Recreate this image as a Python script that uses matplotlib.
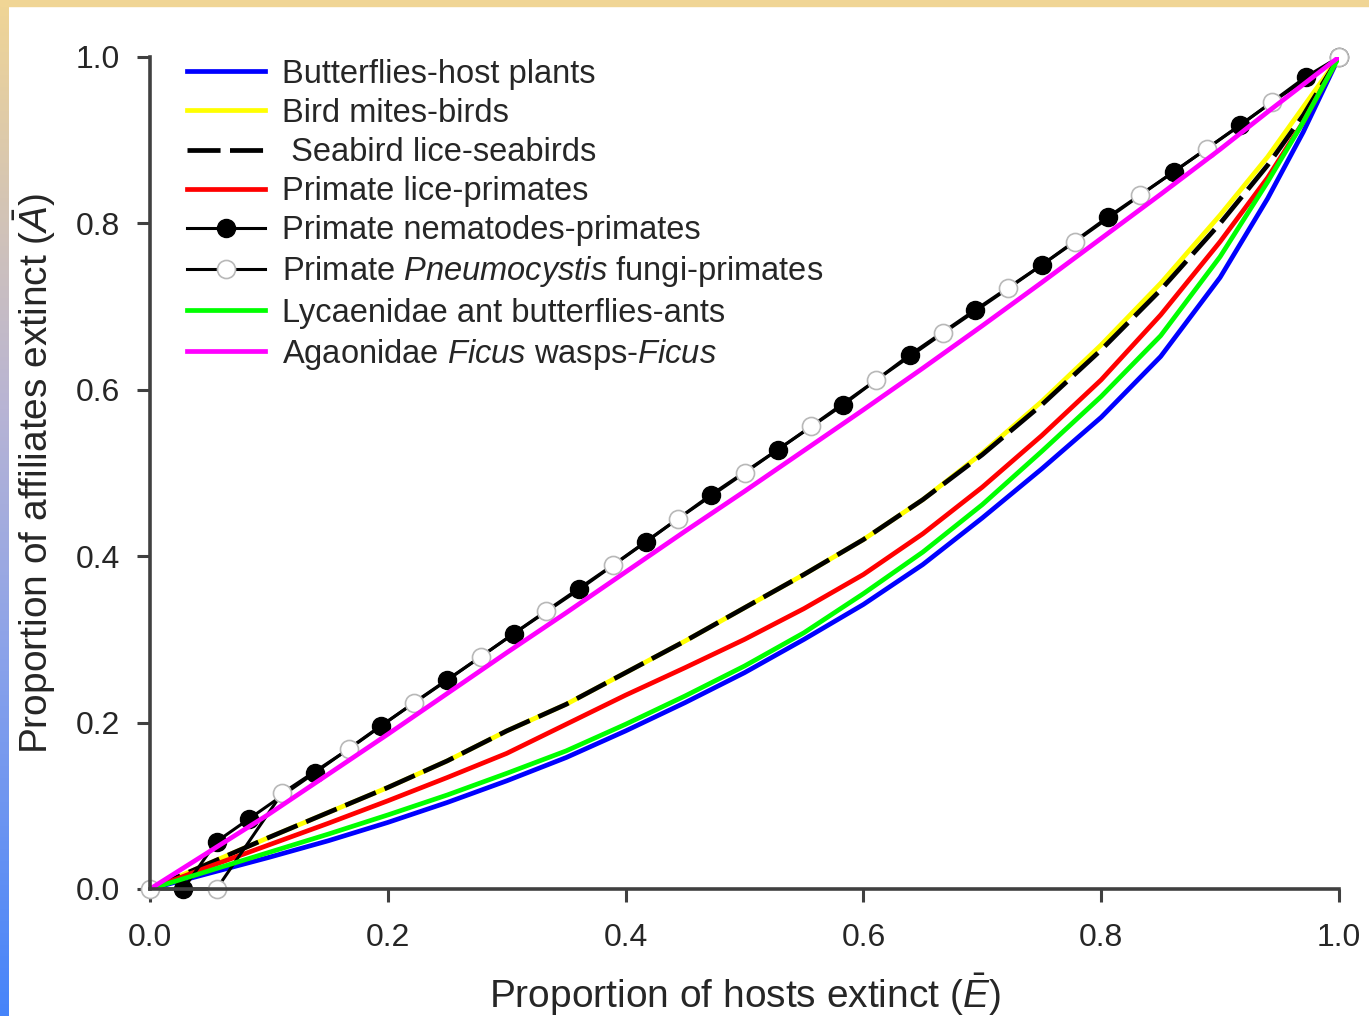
import numpy as np
import matplotlib
matplotlib.use('Agg')
import matplotlib.pyplot as plt
from matplotlib.colors import LinearSegmentedColormap
from matplotlib.patches import Rectangle

plt.rcParams['font.family'] = ['Liberation Sans', 'DejaVu Sans']
plt.rcParams['mathtext.fontset'] = 'custom'
plt.rcParams['mathtext.rm'] = 'Liberation Sans'
plt.rcParams['mathtext.it'] = 'Liberation Sans:italic'
plt.rcParams['mathtext.bf'] = 'Liberation Sans:bold'

# Curves (proportion of hosts extinct -> affiliates extinct)
curve_x = [0, 0.05, 0.1, 0.15, 0.2, 0.25, 0.3, 0.35, 0.4, 0.45, 0.5, 0.55, 0.6, 0.65, 0.7,
           0.75, 0.8, 0.85, 0.9, 0.94, 0.97, 1.0]

butterfly_y = [0, 0.019, 0.038, 0.058, 0.08, 0.104, 0.13, 0.158, 0.19, 0.224, 0.26, 0.3, 0.342,
               0.39, 0.446, 0.505, 0.567, 0.64, 0.735, 0.83, 0.91, 1.0]
mites_y = [0, 0.031, 0.062, 0.092, 0.122, 0.154, 0.19, 0.222, 0.26, 0.298, 0.338, 0.378, 0.42,
           0.468, 0.524, 0.586, 0.654, 0.728, 0.81, 0.88, 0.94, 1.0]
seabird_y = [0, 0.031, 0.062, 0.092, 0.122, 0.154, 0.19, 0.222, 0.26, 0.298, 0.338, 0.378, 0.42,
             0.468, 0.522, 0.582, 0.648, 0.72, 0.8, 0.87, 0.93, 1.0]
lice_y = [0, 0.027, 0.053, 0.079, 0.106, 0.134, 0.163, 0.198, 0.233, 0.266, 0.3, 0.337, 0.378,
          0.427, 0.483, 0.545, 0.612, 0.69, 0.778, 0.855, 0.922, 1.0]
lycaen_y = [0, 0.022, 0.044, 0.066, 0.089, 0.113, 0.139, 0.166, 0.198, 0.232, 0.268, 0.308, 0.355,
            0.405, 0.462, 0.526, 0.592, 0.665, 0.76, 0.85, 0.922, 1.0]
ficus_y = [0, 0.045, 0.09, 0.138, 0.186, 0.235, 0.284, 0.332, 0.381, 0.43, 0.478, 0.527, 0.576,
           0.626, 0.677, 0.729, 0.782, 0.835, 0.889, 0.934, 0.967, 1.0]

nema_x = [0.028, 0.056, 0.083, 0.139, 0.194, 0.250, 0.306, 0.361, 0.417, 0.472, 0.528, 0.583,
          0.639, 0.694, 0.750, 0.806, 0.861, 0.917, 0.972, 1.0]
nema_y = [0.000, 0.057, 0.084, 0.140, 0.196, 0.251, 0.307, 0.360, 0.417, 0.474, 0.528, 0.582,
          0.642, 0.696, 0.750, 0.808, 0.862, 0.918, 0.976, 1.0]

pneumo_x = [0, 0.056, 0.111, 0.167, 0.222, 0.278, 0.333, 0.389, 0.444, 0.500, 0.556, 0.611,
            0.667, 0.722, 0.778, 0.833, 0.889, 0.944, 1.0]
pneumo_y = [0, 0.000, 0.115, 0.168, 0.224, 0.279, 0.334, 0.389, 0.445, 0.500, 0.556, 0.612,
            0.668, 0.722, 0.778, 0.834, 0.890, 0.946, 1.0]

ticks = [0.0, 0.2, 0.4, 0.6, 0.8, 1.0]
tick_labels = ['0.0', '0.2', '0.4', '0.6', '0.8', '1.0']

W, H = 1369, 1016
fig = plt.figure(figsize=(W / 100, H / 100), dpi=100)

# page border: gradient strip on the left, tan band on top
bax = fig.add_axes([0, 0, 9 / W, 1])
cmap = LinearSegmentedColormap.from_list('edge', [(0, '#4684fa'), (0.35, '#8aa2ea'),
                                                  (0.6, '#b8b4d4'), (1, '#f0d595')])
bax.imshow(np.linspace(0, 1, 256).reshape(-1, 1), aspect='auto', cmap=cmap, origin='lower')
bax.axis('off')
fig.patches.append(Rectangle((0, 1 - 6 / H), 1, 6 / H, transform=fig.transFigure,
                             color='#f0d595', zorder=0))

ax = fig.add_axes([150 / W, 1 - 889 / H, 1189 / W, 832 / H])

lw = 3.4
ax.plot(curve_x, butterfly_y, color='#0000ff', lw=lw, label='Butterflies-host plants')
ax.plot(curve_x, mites_y, color='#ffff00', lw=lw, label='Bird mites-birds')
ax.plot(curve_x, seabird_y, color='black', lw=lw, ls=(0, (7, 2)), dash_capstyle='butt',
        label=' Seabird lice-seabirds')
ax.plot(curve_x, lice_y, color='#ff0000', lw=lw, label='Primate lice-primates')
ax.plot(nema_x, nema_y, color='black', lw=2.2, marker='o', ms=13, mfc='black', mec='black',
        clip_on=False, label='Primate nematodes-primates')
ax.plot(pneumo_x, pneumo_y, color='black', lw=2.2, marker='o', ms=13, mfc='white', mec='#b8b8b8',
        mew=1.2, clip_on=False, label=r'Primate $\it{Pneumocystis}$ fungi-primates')
ax.plot(curve_x, lycaen_y, color='#00ff00', lw=lw, label='Lycaenidae ant butterflies-ants')
ax.plot(curve_x, ficus_y, color='#ff00ff', lw=lw, label=r'Agaonidae $\it{Ficus}$ wasps-$\it{Ficus}$')

ax.set_xlim(0, 1)
ax.set_ylim(0, 1)
ax.set_xticks(ticks)
ax.set_xticklabels(tick_labels)
ax.set_yticks(ticks)
ax.set_yticklabels(tick_labels)
for s in ['top', 'right']:
    ax.spines[s].set_visible(False)
for s in ['left', 'bottom']:
    ax.spines[s].set_linewidth(2.6)
    ax.spines[s].set_color('#404040')
ax.tick_params(axis='both', direction='out', length=9.5, width=2.2, color='#404040',
               labelsize=23, labelcolor='#262626')
ax.tick_params(axis='x', pad=15)
ax.tick_params(axis='y', pad=12)

ax.set_xlabel(r'Proportion of hosts extinct ($\bar{E}$)', fontsize=28, color='#262626')
ax.set_ylabel(r'Proportion of affiliates extinct ($\bar{A}$)', fontsize=28, color='#262626')
ax.xaxis.set_label_coords(0.5, -0.099)
ax.yaxis.set_label_coords(-0.077, 0.5)

leg = ax.legend(loc='upper left', bbox_to_anchor=(0.031, 0.998), frameon=False, fontsize=23.5,
                handlelength=2.4, handletextpad=0.5, labelspacing=0.25, borderpad=0,
                borderaxespad=0, numpoints=1)
for t in leg.get_texts():
    t.set_color('#262626')

fig.savefig('out.png', dpi=100)
